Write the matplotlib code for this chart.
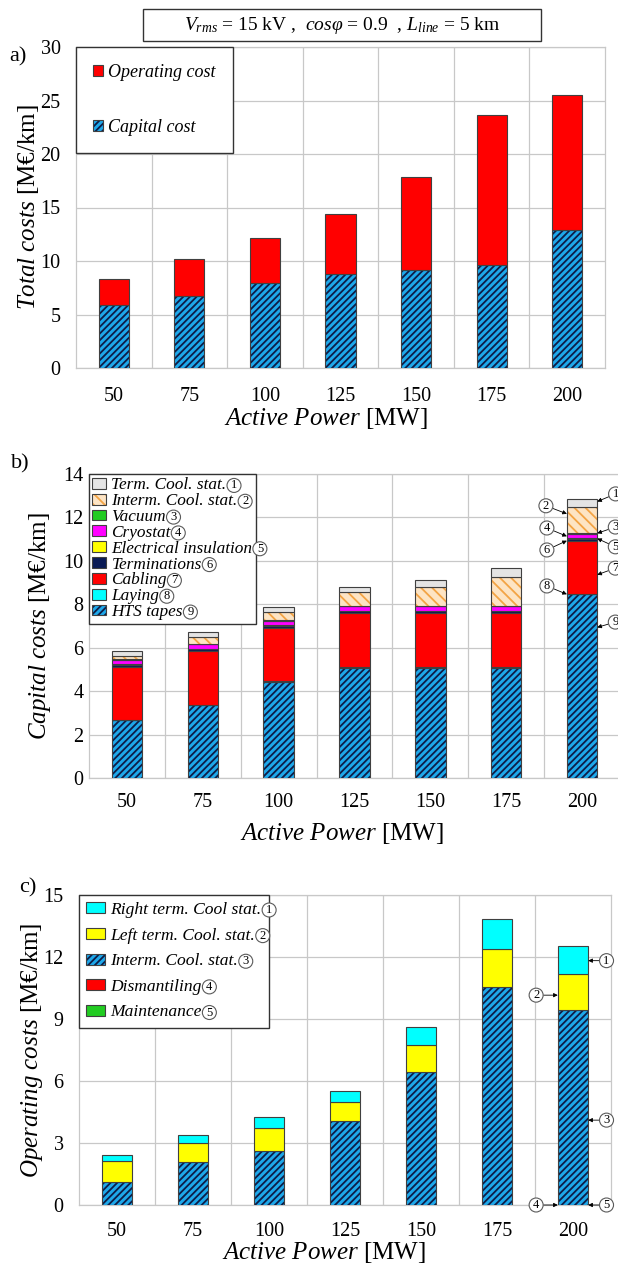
import numpy as np
import matplotlib
matplotlib.use("Agg")
import matplotlib.pyplot as plt
from matplotlib.colors import to_rgba
from matplotlib.patches import Rectangle
from matplotlib.legend_handler import HandlerPatch

# ---------------- data ----------------
power = [50, 75, 100, 125, 150, 175, 200]

# panel a: total costs [M EUR/km]
capital_total = [5.85, 6.74, 7.90, 8.79, 9.13, 9.66, 12.86]
operating_total = [2.45, 3.45, 4.28, 5.56, 8.72, 13.94, 12.64]

# panel b: capital cost breakdown [M EUR/km]
hts_tapes = [2.66, 3.34, 4.43, 5.08, 5.08, 5.08, 8.46]
laying = [0.02, 0.02, 0.02, 0.02, 0.02, 0.02, 0.02]
cabling = [2.43, 2.47, 2.47, 2.48, 2.48, 2.48, 2.44]
terminations = [0.10, 0.10, 0.10, 0.10, 0.10, 0.10, 0.10]
insulation = [0.02, 0.02, 0.02, 0.02, 0.02, 0.02, 0.02]
cryostat = [0.20, 0.20, 0.20, 0.20, 0.20, 0.20, 0.20]
vacuum = [0.03, 0.03, 0.03, 0.03, 0.03, 0.03, 0.03]
interm_cool_cap = [0.17, 0.30, 0.36, 0.63, 0.87, 1.33, 1.21]
term_cool_cap = [0.22, 0.23, 0.26, 0.22, 0.31, 0.40, 0.37]

# panel c: operating cost breakdown [M EUR/km]
maintenance = [0.0, 0.0, 0.0, 0.0, 0.0, 0.0, 0.0]
dismantling = [0.0, 0.0, 0.0, 0.0, 0.0, 0.0, 0.0]
interm_cool_op = [1.10, 2.07, 2.63, 4.08, 6.45, 10.55, 9.44]
left_term_cool = [1.01, 0.93, 1.10, 0.91, 1.29, 1.85, 1.74]
right_term_cool = [0.29, 0.40, 0.55, 0.55, 0.89, 1.44, 1.34]

# ---------------- style ----------------
plt.rcParams.update({
    "font.family": ["Liberation Serif", "DejaVu Serif"],
    "mathtext.fontset": "custom",
    "mathtext.rm": "Liberation Serif",
    "mathtext.it": "Liberation Serif:italic",
    "mathtext.bf": "Liberation Serif:bold",
    "hatch.linewidth": 1.3,
})

GRID = "#c8c8c8"
EDGE = "#404040"
BLUE = "#1ea8ea"
NAVY_HATCH = "#0d1d48"
ORANGE_FACE = "#fde4c4"
ORANGE_HATCH = "#f3a445"
W, H = 618, 1273
TICK_FS = 14.5
LABEL_FS = 18

fig = plt.figure(figsize=(W / 100, H / 100), dpi=100)
x = np.arange(len(power))
BW = 0.4


def add_axes_px(left, top, right, bottom):
    return fig.add_axes([left / W, 1 - bottom / H, (right - left) / W, (bottom - top) / H])


def set_hatch_color(container, c):
    for p in container:
        if hasattr(p, "set_hatchcolor"):
            p.set_hatchcolor(c)
        else:
            p._hatch_color = to_rgba(c)


def style(ax, ymax, ystep, ypad, xpad):
    ax.set_xlim(-0.5, 6.5)
    ax.set_ylim(0, ymax)
    ax.set_xticks(x, [str(p) for p in power])
    ax.set_xticks(np.arange(0.5, 6.0, 1.0), minor=True)
    ax.set_yticks(np.arange(0, ymax + 0.001, ystep))
    ax.grid(axis="y", which="major", color=GRID, lw=0.9)
    ax.grid(axis="x", which="minor", color=GRID, lw=0.9)
    ax.set_axisbelow(True)
    for s in ax.spines.values():
        s.set_color(GRID)
        s.set_linewidth(0.9)
    ax.tick_params(axis="both", which="both", length=0, labelsize=TICK_FS)
    ax.tick_params(axis="y", pad=ypad)
    ax.tick_params(axis="x", pad=xpad)


def stack(ax, series, styles):
    bottoms = np.zeros(len(power))
    conts, bots = [], []
    for vals, st in zip(series, styles):
        vals = np.asarray(vals, dtype=float)
        c = ax.bar(x, vals, BW, bottom=bottoms, color=st["fc"], edgecolor=EDGE,
                   linewidth=0.8, hatch=st.get("hatch"), zorder=3)
        if st.get("hatch"):
            set_hatch_color(c, st["hc"])
        conts.append(c)
        bots.append(bottoms.copy())
        bottoms = bottoms + vals
    return conts, bots


def square_patch(size_pt):
    def f(legend, orig_handle, xdescent, ydescent, width, height, fontsize):
        return Rectangle((-xdescent + width - size_pt, -ydescent + (height - size_pt) / 2),
                         size_pt, size_pt)
    return HandlerPatch(patch_func=f)


CIRC = dict(boxstyle="circle,pad=0.08", fc="white", ec="#5a5a5a", lw=0.8)


def callouts(ax, series, bots, specs):
    for num, seg, frac, side, dx, dy in specs:
        y = bots[seg][6] + frac * series[seg][6]
        ax.annotate(str(num), xy=(6 + side * BW / 2, y), xytext=(dx, dy),
                    textcoords="offset points", ha="center", va="center",
                    fontsize=9, bbox=CIRC, annotation_clip=False, zorder=6,
                    arrowprops=dict(arrowstyle="-|>", color="black", lw=0.6,
                                    mutation_scale=6, shrinkA=0, shrinkB=0))


BLUE_ST = dict(fc=BLUE, hatch="/////", hc=NAVY_HATCH)

# ================= panel a =================
axa = add_axes_px(76, 47, 605, 368)
style(axa, 30, 5, 11, 14)
ca, _ = stack(axa, [capital_total, operating_total], [BLUE_ST, dict(fc="#ff0000")])
axa.set_ylabel(r"$\mathit{Total\ costs}$ [M€/km]", fontsize=LABEL_FS)
axa.yaxis.set_label_coords(-0.066, 0.5)
axa.set_xlabel(r"$\mathit{Active\ Power}$ [MW]", fontsize=LABEL_FS)
axa.xaxis.set_label_coords(0.473, -0.118)
lega = axa.legend([ca[1], ca[0]], ["Operating cost", "Capital cost"],
                  loc="upper left", bbox_to_anchor=(0, 1), borderaxespad=0,
                  prop={"family": "Liberation Serif", "style": "italic", "size": 13},
                  handlelength=0.55, handleheight=0.55, handletextpad=0.3,
                  labelspacing=2.1, borderpad=0.95, fancybox=False, framealpha=1,
                  edgecolor="#333333",
                  handler_map={type(ca[0][0]): square_patch(6.6)})
lega.get_frame().set_linewidth(1.0)

fig.text(18 / W, 1 - 57 / H, "a)", fontsize=16, ha="center", va="center")
fig.text(342 / W, 1 - 25 / H,
         r"$V_{rms}$ = 15 kV ,  $cos\varphi$ = 0.9  , $L_{line}$ = 5 km",
         ha="center", va="center", fontsize=14)
fig.add_artist(Rectangle((143 / W, 1 - 40.7 / H), (541 - 143) / W, 31.4 / H,
                         transform=fig.transFigure, fill=False, ec="#333333", lw=1.0))

# ================= panel b =================
axb = add_axes_px(89, 474, 620, 778)
style(axb, 14, 2, 4, 11)
b_series = [hts_tapes, laying, cabling, terminations, insulation, cryostat, vacuum,
            interm_cool_cap, term_cool_cap]
b_styles = [BLUE_ST, dict(fc="#00ffff"), dict(fc="#ff0000"), dict(fc="#0a1a55"),
            dict(fc="#ffff00"), dict(fc="#ff00ff"), dict(fc="#22cc22"),
            dict(fc=ORANGE_FACE, hatch="\\\\\\", hc=ORANGE_HATCH), dict(fc="#e4e4e4")]
b_labels = ["HTS tapes", "Laying", "Cabling", "Terminations", "Electrical insulation",
            "Cryostat", "Vacuum", "Interm. Cool. stat.", "Term. Cool. stat."]
cb, bb = stack(axb, b_series, b_styles)
axb.set_ylabel(r"$\mathit{Capital\ costs}$ [M€/km]", fontsize=LABEL_FS)
axb.yaxis.set_label_coords(-0.068, 0.5)
axb.set_xlabel(r"$\mathit{Active\ Power}$ [MW]", fontsize=LABEL_FS)
axb.xaxis.set_label_coords(0.476, -0.14)
legb = axb.legend(cb[::-1], b_labels[::-1], loc="upper left", bbox_to_anchor=(0, 1),
                  borderaxespad=0,
                  prop={"family": "Liberation Serif", "style": "italic", "size": 12.4},
                  handlelength=0.8, handleheight=0.6, handletextpad=0.3,
                  labelspacing=-0.01, borderpad=0.2, fancybox=False, framealpha=1,
                  edgecolor="#333333",
                  handler_map={type(cb[0][0]): square_patch(6.0)})
legb.get_frame().set_linewidth(1.0)
legb.set_zorder(5)
callouts(axb, b_series, bb, [
    (1, 8, 0.68, +1, 13.2, 5.5),
    (2, 7, 0.74, -1, -15.1, 5.8),
    (3, 6, 1.0, +1, 13.0, 4.5),
    (4, 5, 0.45, -1, -14.4, 6.0),
    (5, 4, 0.5, +1, 13.0, -6.0),
    (6, 3, 0.1, -1, -14.4, -6.7),
    (7, 2, 0.36, +1, 13.0, 4.8),
    (8, 1, 0.0, -1, -14.4, 6.0),
    (9, 0, 0.82, +1, 13.0, 3.8),
])
fig.text(20 / W, 1 - 464 / H, "b)", fontsize=16, ha="center", va="center")

# ================= panel c =================
axc = add_axes_px(79, 895, 611, 1205)
style(axc, 15, 3, 11, 12)
c_series = [maintenance, dismantling, interm_cool_op, left_term_cool, right_term_cool]
c_styles = [dict(fc="#22cc22"), dict(fc="#ff0000"), BLUE_ST, dict(fc="#ffff00"),
            dict(fc="#00ffff")]
c_labels = ["Maintenance", "Dismantiling", "Interm. Cool. stat.", "Left term. Cool. stat.",
            "Right term. Cool stat."]
cc, bc = stack(axc, c_series, c_styles)
axc.set_ylabel(r"$\mathit{Operating\ costs}$ [M€/km]", fontsize=LABEL_FS)
axc.yaxis.set_label_coords(-0.064, 0.5)
axc.set_xlabel(r"$\mathit{Active\ Power}$ [MW]", fontsize=LABEL_FS)
axc.xaxis.set_label_coords(0.46, -0.112)
legc = axc.legend(cc[::-1], c_labels[::-1], loc="upper left", bbox_to_anchor=(0, 1),
                  borderaxespad=0,
                  prop={"family": "Liberation Serif", "style": "italic", "size": 12.6},
                  handlelength=1.1, handleheight=0.6, handletextpad=0.3,
                  labelspacing=0.55, borderpad=0.4, fancybox=False, framealpha=1,
                  edgecolor="#333333",
                  handler_map={type(cc[0][0]): square_patch(6.0)})
legc.get_frame().set_linewidth(1.0)
legc.set_zorder(5)
callouts(axc, c_series, bc, [
    (1, 4, 0.48, +1, 13.2, 0),
    (2, 3, 0.41, -1, -15.6, 0),
    (3, 2, 0.435, +1, 13.2, 0),
    (4, 1, 0.5, -1, -15.6, 0),
    (5, 0, 0.5, +1, 13.2, 0),
])
fig.text(28 / W, 1 - 888 / H, "c)", fontsize=16, ha="center", va="center")

# ----- circled numbers after legend labels -----
fig.canvas.draw()
rend = fig.canvas.get_renderer()
for leg in (legb, legc):
    for i, t in enumerate(leg.get_texts()):
        e = t.get_window_extent(rend)
        fig.text((e.x1 + 7.5) / W, (e.y0 + e.y1) / 2 / H, str(i + 1), ha="center",
                 va="center", fontsize=9, bbox=CIRC, zorder=10)

fig.savefig("out.png", dpi=100)
